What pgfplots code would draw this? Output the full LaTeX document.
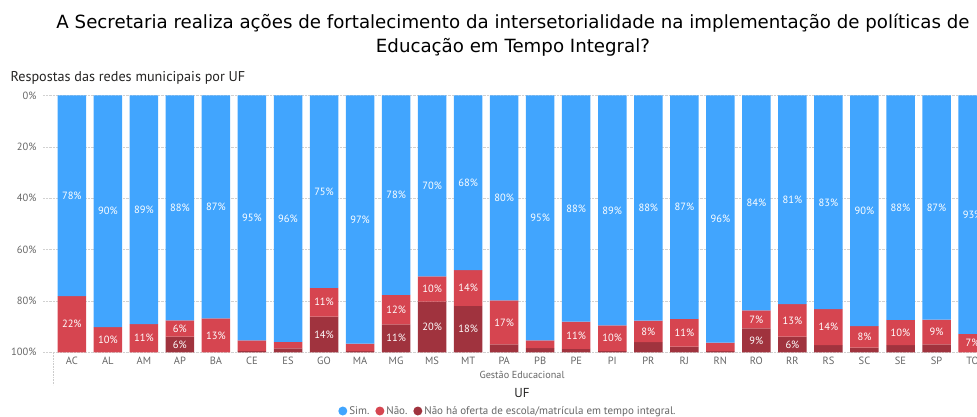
\documentclass[border=0pt]{standalone}
\usepackage{pgfplots}
\pgfplotsset{compat=1.18}
\usepackage{pgfplotstable}
\usepackage{fontspec}
\setmainfont{PT Sans}
\newfontfamily\titlefont{DejaVu Sans}
\definecolor{csim}{HTML}{41A5FE}
\definecolor{cnao}{HTML}{D64550}
\definecolor{cnha}{HTML}{A0333E}
\definecolor{tickgray}{HTML}{666666}
\definecolor{titlegray}{HTML}{252423}

\pgfplotstableread{
x uf sim nao nha lsim lnao lnha
0 AC 78.1 21.9 0 78 22 0
1 AL 90.2 9.8 0 90 10 0
2 AM 89.0 11.0 0 89 11 0
3 AP 87.6 6.3 6.1 88 6 6
4 BA 86.8 13.2 0 87 13 0
5 CE 95.4 4.0 0.6 95 0 0
6 ES 95.9 2.6 1.5 96 0 0
7 GO 74.9 11.2 13.9 75 11 14
8 MA 96.6 2.9 0.5 97 0 0
9 MG 77.6 11.5 10.9 78 12 11
10 MS 70.4 9.9 19.7 70 10 20
11 MT 68.0 13.9 18.1 68 14 18
12 PA 79.8 17.1 3.1 80 17 0
13 PB 95.4 3.0 1.6 95 0 0
14 PE 88.1 10.6 1.3 88 11 0
15 PI 89.5 9.9 0.6 89 10 0
16 PR 87.7 8.3 4.0 88 8 0
17 RJ 87.0 10.8 2.2 87 11 0
18 RN 96.2 3.3 0.5 96 0 0
19 RO 83.7 7.0 9.3 84 7 9
20 RR 81.2 12.7 6.1 81 13 6
21 RS 83.2 14.0 2.8 83 14 0
22 SC 89.8 8.4 1.8 90 8 0
23 SE 87.4 9.8 2.8 88 10 0
24 SP 87.3 9.6 3.1 87 9 0
25 TO 92.8 7.2 0 93 7 0
}\data

\begin{document}
\begin{tikzpicture}[x=1pt,y=1pt]
\useasboundingbox (0,0) rectangle (977,417);
\clip (0,0) rectangle (977,417);
% titles
\node[font=\titlefont\fontsize{18.2}{20}\selectfont, text=black] at (513,394) {A Secretaria realiza ações de fortalecimento da intersetorialidade na implementação de políticas de};
\node[font=\titlefont\fontsize{18.2}{20}\selectfont, text=black] at (513,370) {Educação em Tempo Integral?};
\node[anchor=west, font=\fontsize{14.2}{16}\selectfont, text=titlegray] at (7,339) {Respostas das redes municipais por UF};

\begin{axis}[
  at={(43pt,64.7pt)}, anchor=south west,
  scale only axis, width=965.6pt, height=256.8pt,
  xmin=-0.8, xmax=26, ymin=0, ymax=100, y dir=reverse,
  ybar stacked, bar width=28.5pt,
  axis line style={draw=none},
  major tick length=0pt,
  ytick={0,20,40,60,80,100},
  yticklabel={\pgfmathprintnumber{\tick}\%},
  xtick={0,...,25},
  xticklabels from table={\data}{uf},
  ymajorgrids,
  grid style={densely dotted, black!18, line width=0.6pt},
  tick label style={font=\fontsize{10.5}{12}\selectfont, text=tickgray},
  yticklabel style={xshift=-3pt},
  xticklabel style={yshift=-1pt},
  /pgf/number format/assume math mode=true,
  legend style={at={(0.4815,-0.2286)}, anchor=center, draw=none, fill=none,
    legend columns=3, font=\fontsize{11}{13}\selectfont, text=tickgray,
    /tikz/every even column/.append style={column sep=4pt},
    inner sep=0pt},
  legend cell align=left,
]
\addplot[fill=csim, draw=none, legend image code/.code={\fill[csim] (2pt,0pt) circle (4.5pt);}] table[x=x, y=sim] {\data};
\addlegendentry{Sim.}
\addplot[fill=cnao, draw=none, legend image code/.code={\fill[cnao] (2pt,0pt) circle (4.5pt);}] table[x=x, y=nao] {\data};
\addlegendentry{Não.}
\addplot[fill=cnha, draw=none, legend image code/.code={\fill[cnha] (2pt,0pt) circle (4.5pt);}] table[x=x, y=nha] {\data};
\addlegendentry{Não há oferta de escola/matrícula em tempo integral.}
\end{axis}

\begin{axis}[
  at={(43pt,64.7pt)}, anchor=south west,
  scale only axis, width=965.6pt, height=256.8pt,
  xmin=-0.8, xmax=26, ymin=0, ymax=100, y dir=reverse,
  hide axis, clip=false,
  /pgf/number format/assume math mode=true,
  nodes near coords={\pgfmathprintnumber{\pgfplotspointmeta}\%},
  every node near coord/.append style={anchor=center, text=white, font=\fontsize{10.5}{12}\selectfont},
]
\addplot[draw=none, mark=none, point meta=\thisrow{lsim}] table[x=x, y expr=\thisrow{sim}/2] {\data};
\addplot[draw=none, mark=none, point meta=\thisrow{lnao}, restrict expr to domain={\thisrow{lnao}}{1:100}] table[x=x, y expr=\thisrow{sim}+\thisrow{nao}/2] {\data};
\addplot[draw=none, mark=none, point meta=\thisrow{lnha}, restrict expr to domain={\thisrow{lnha}}{1:100}] table[x=x, y expr=\thisrow{sim}+\thisrow{nao}+\thisrow{nha}/2] {\data};
\end{axis}

\draw[densely dotted, black!20, line width=0.6pt] (53,64) -- (53,32);
\node[font=\fontsize{10.2}{12}\selectfont, text=tickgray] at (522,42) {Gestão Educacional};
\node[font=\fontsize{13}{15}\selectfont, text=titlegray] at (522,24) {UF};
\end{tikzpicture}
\end{document}
